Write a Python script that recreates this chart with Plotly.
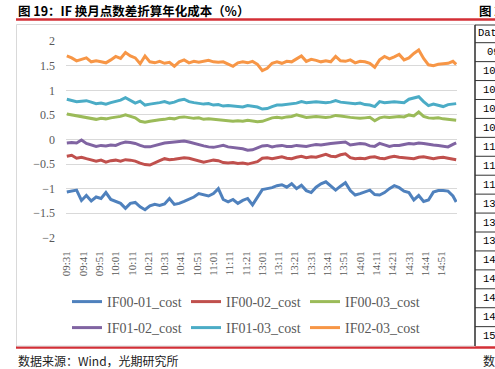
import plotly.graph_objects as go

# ---------------- data ----------------
tick_labels = ["09:31", "09:41", "09:51", "10:01", "10:11", "10:21", "10:31", "10:41",
               "10:51", "11:01", "11:11", "11:21", "13:01", "13:11", "13:21", "13:31",
               "13:41", "13:51", "14:01", "14:11", "14:21", "14:31", "14:41", "14:51"]
# sampled minute index within the 240 trading minutes (every 3 minutes + last)
minute_index = list(range(0, 240, 3)) + [239]

series_names = ["IF00-01_cost", "IF00-02_cost", "IF00-03_cost",
                "IF01-02_cost", "IF01-03_cost", "IF02-03_cost"]

if00_01 = [-1.07, -1.05, -1.03, -1.24, -1.14, -1.25, -1.17, -1.20, -1.08, -1.22,
           -1.26, -1.30, -1.40, -1.30, -1.28, -1.37, -1.43, -1.35, -1.32, -1.34,
           -1.31, -1.20, -1.32, -1.30, -1.26, -1.21, -1.17, -1.10, -1.12, -1.15,
           -1.10, -1.00, -1.22, -1.27, -1.22, -1.30, -1.24, -1.20, -1.33, -1.18,
           -1.02, -1.00, -0.98, -0.94, -0.92, -0.97, -0.90, -1.00, -0.93, -1.04,
           -1.08, -0.97, -0.90, -0.86, -0.95, -1.03, -0.95, -0.88, -1.04, -1.13,
           -1.10, -1.06, -1.03, -1.12, -1.13, -1.08, -1.00, -0.94, -0.98, -1.05,
           -1.08, -1.23, -1.14, -1.26, -1.23, -1.07, -1.04, -1.04, -1.05, -1.15,
           -1.27]
if00_02 = [-0.34, -0.32, -0.38, -0.36, -0.39, -0.41, -0.44, -0.42, -0.46, -0.43,
           -0.42, -0.44, -0.41, -0.42, -0.44, -0.48, -0.51, -0.52, -0.47, -0.43,
           -0.39, -0.41, -0.40, -0.39, -0.37, -0.38, -0.41, -0.43, -0.46, -0.44,
           -0.42, -0.43, -0.47, -0.48, -0.47, -0.49, -0.48, -0.50, -0.47, -0.45,
           -0.38, -0.37, -0.39, -0.37, -0.35, -0.38, -0.39, -0.36, -0.34, -0.37,
           -0.35, -0.36, -0.33, -0.30, -0.34, -0.35, -0.31, -0.29, -0.37, -0.39,
           -0.38, -0.39, -0.36, -0.35, -0.38, -0.39, -0.36, -0.34, -0.36, -0.37,
           -0.38, -0.39, -0.36, -0.35, -0.37, -0.39, -0.37, -0.36, -0.38, -0.40,
           -0.41]
if00_03 = [0.52, 0.50, 0.48, 0.46, 0.45, 0.43, 0.41, 0.43, 0.42, 0.44,
           0.45, 0.47, 0.50, 0.47, 0.44, 0.37, 0.35, 0.37, 0.39, 0.40,
           0.41, 0.43, 0.42, 0.45, 0.46, 0.44, 0.43, 0.44, 0.41, 0.42,
           0.41, 0.41, 0.40, 0.39, 0.37, 0.38, 0.37, 0.39, 0.38, 0.36,
           0.37, 0.40, 0.44, 0.45, 0.44, 0.46, 0.47, 0.50, 0.47, 0.45,
           0.46, 0.47, 0.46, 0.45, 0.46, 0.49, 0.48, 0.46, 0.45, 0.44,
           0.43, 0.44, 0.45, 0.38, 0.44, 0.46, 0.45, 0.46, 0.47, 0.46,
           0.50, 0.48, 0.56, 0.47, 0.44, 0.43, 0.44, 0.42, 0.41, 0.40,
           0.39]
if01_02 = [-0.07, -0.06, -0.07, -0.01, -0.08, -0.11, -0.14, -0.12, -0.13, -0.11,
           -0.12, -0.08, -0.05, -0.06, -0.08, -0.12, -0.15, -0.15, -0.12, -0.10,
           -0.07, -0.06, -0.05, -0.04, -0.03, -0.05, -0.08, -0.10, -0.13, -0.15,
           -0.16, -0.14, -0.12, -0.15, -0.16, -0.17, -0.19, -0.22, -0.21, -0.17,
           -0.13, -0.12, -0.15, -0.13, -0.12, -0.14, -0.14, -0.12, -0.13, -0.14,
           -0.12, -0.10, -0.11, -0.09, -0.08, -0.07, -0.06, -0.05, -0.11, -0.10,
           -0.08, -0.09, -0.13, -0.14, -0.08, -0.11, -0.14, -0.12, -0.12, -0.10,
           -0.08, -0.09, -0.07, -0.08, -0.10, -0.11, -0.12, -0.13, -0.15, -0.10,
           -0.07]
if01_03 = [0.82, 0.79, 0.77, 0.78, 0.79, 0.76, 0.73, 0.74, 0.72, 0.75,
           0.78, 0.80, 0.85, 0.79, 0.74, 0.78, 0.70, 0.72, 0.73, 0.75,
           0.77, 0.74, 0.76, 0.80, 0.82, 0.77, 0.75, 0.74, 0.72, 0.73,
           0.70, 0.71, 0.68, 0.69, 0.68, 0.67, 0.66, 0.69, 0.67, 0.66,
           0.62, 0.63, 0.67, 0.70, 0.70, 0.71, 0.73, 0.74, 0.77, 0.75,
           0.76, 0.77, 0.76, 0.75, 0.76, 0.79, 0.76, 0.75, 0.74, 0.73,
           0.74, 0.71, 0.70, 0.67, 0.77, 0.75, 0.76, 0.77, 0.76, 0.75,
           0.82, 0.84, 0.87, 0.77, 0.69, 0.72, 0.70, 0.67, 0.71, 0.72,
           0.73]
if02_03 = [1.70, 1.66, 1.60, 1.63, 1.66, 1.58, 1.60, 1.58, 1.56, 1.62,
           1.69, 1.65, 1.77, 1.70, 1.66, 1.54, 1.70, 1.58, 1.56, 1.59,
           1.55, 1.57, 1.49, 1.58, 1.62, 1.56, 1.59, 1.57, 1.59, 1.61,
           1.58, 1.57, 1.58, 1.54, 1.49, 1.56, 1.58, 1.56, 1.59, 1.53,
           1.40, 1.45, 1.55, 1.58, 1.55, 1.59, 1.58, 1.64, 1.70, 1.59,
           1.63, 1.61, 1.58, 1.60, 1.58, 1.69, 1.60, 1.59, 1.62, 1.56,
           1.59, 1.58, 1.55, 1.47, 1.62, 1.69, 1.64, 1.68, 1.73, 1.62,
           1.66, 1.75, 1.82, 1.65, 1.52, 1.50, 1.53, 1.54, 1.55, 1.59,
           1.53]

series_values = [if00_01, if00_02, if00_03, if01_02, if01_03, if02_03]
series_colors = ["#4F81BD", "#C0504D", "#9BBB59", "#8064A2", "#4BACC6", "#F79646"]

table_header = "Dat"
table_rows = ["09", "10", "10", "10", "10", "11", "11", "11",
              "13", "13", "13", "14", "14", "14", "14", "15"]

title_text = "<b>图 19：IF 换月点数差折算年化成本（%）</b>"
next_title_text = "<b>图 2</b>"
source_text = "数据来源：Wind，光期研究所"
next_source_text = "数"

# ---------------- layout geometry (pixels) ----------------
W, H = 495, 369
PL, PR, PT, PB = 66, 457, 41, 238


def px_x(px):
    return (px - PL) / (PR - PL)


def px_y(py):
    return (PB - py) / (PB - PT)


fig = go.Figure()
for i, (name, vals, col) in enumerate(zip(series_names, series_values, series_colors)):
    fig.add_trace(go.Scatter(
        x=minute_index, y=vals, name=name, mode="lines",
        line=dict(color=col, width=3),
        legend="legend" if i < 3 else "legend2",
    ))

red = "#D32F36"
shapes = [
    dict(type="line", xref="paper", yref="paper", x0=px_x(16), x1=px_x(W + 2),
         y0=px_y(19.5), y1=px_y(19.5), line=dict(color=red, width=2.5)),
    dict(type="line", xref="paper", yref="paper", x0=px_x(16), x1=px_x(W + 2),
         y0=px_y(347.5), y1=px_y(347.5), line=dict(color=red, width=2.5)),
    dict(type="rect", xref="paper", yref="paper", x0=px_x(16.5), x1=px_x(475),
         y0=px_y(24.5), y1=px_y(346), line=dict(color="#D9D9D9", width=1)),
    dict(type="line", xref="paper", yref="paper", x0=px_x(475), x1=px_x(475),
         y0=px_y(25), y1=px_y(346), line=dict(color="#333333", width=1.5)),
    dict(type="line", xref="paper", yref="paper", x0=px_x(475), x1=px_x(W + 2),
         y0=px_y(25), y1=px_y(25), line=dict(color="#333333", width=1)),
]
row_h = 18.93
header_bottom = 42.7
for k in range(len(table_rows)):
    yy = header_bottom + k * row_h
    shapes.append(dict(type="line", xref="paper", yref="paper", x0=px_x(475), x1=px_x(W + 2),
                       y0=px_y(yy), y1=px_y(yy), line=dict(color="#333333", width=1)))

annotations = [
    dict(text=title_text, xref="paper", yref="paper", x=px_x(16), y=px_y(10.5),
         xanchor="left", yanchor="middle", showarrow=False,
         font=dict(family="Noto Sans CJK SC", size=12.5, color="#000000")),
    dict(text=next_title_text, xref="paper", yref="paper", x=px_x(477), y=px_y(10.5),
         xanchor="left", yanchor="middle", showarrow=False,
         font=dict(family="Noto Sans CJK SC", size=12.5, color="#000000")),
    dict(text=source_text, xref="paper", yref="paper", x=px_x(16), y=px_y(360),
         xanchor="left", yanchor="middle", showarrow=False,
         font=dict(family="Noto Sans CJK SC", size=12, color="#222222")),
    dict(text=next_source_text, xref="paper", yref="paper", x=px_x(481), y=px_y(360),
         xanchor="left", yanchor="middle", showarrow=False,
         font=dict(family="Noto Sans CJK SC", size=12, color="#222222")),
    dict(text=table_header, xref="paper", yref="paper", x=px_x(476), y=px_y(33),
         xanchor="left", yanchor="middle", showarrow=False,
         font=dict(family="Liberation Mono", size=10.5, color="#000000")),
]
for k, t in enumerate(table_rows):
    yc = header_bottom + (k + 0.5) * row_h
    xx = 485 if k == 0 else 481
    annotations.append(dict(text=t, xref="paper", yref="paper", x=px_x(xx), y=px_y(yc),
                            xanchor="left", yanchor="middle", showarrow=False,
                            font=dict(family="Liberation Mono", size=10.5, color="#000000")))

legend_common = dict(
    orientation="h", xref="paper", yref="paper", xanchor="left", yanchor="middle",
    font=dict(family="Liberation Serif", size=14, color="#595959"),
    bgcolor="rgba(0,0,0,0)", borderwidth=0, entrywidth=74, entrywidthmode="pixels",
    itemclick=False, itemdoubleclick=False,
)

fig.update_layout(
    width=W, height=H,
    margin=dict(l=PL, r=W - PR, t=PT, b=H - PB),
    paper_bgcolor="white", plot_bgcolor="white",
    showlegend=True,
    legend=dict(x=px_x(67), y=px_y(302), **legend_common),
    legend2=dict(x=px_x(67), y=px_y(328), **legend_common),
    xaxis=dict(
        range=[-0.5, 239.5], tickmode="array",
        tickvals=[10 * k for k in range(len(tick_labels))], ticktext=tick_labels,
        tickangle=-90, showgrid=False, zeroline=False, showline=False, ticks="",
        tickfont=dict(family="Liberation Serif", size=11, color="#595959"),
        ticklabelstandoff=10,
    ),
    yaxis=dict(
        range=[-2.004, 2.004], tickmode="linear", tick0=0, dtick=0.5,
        showgrid=True, gridcolor="#D9D9D9", gridwidth=1, zeroline=False,
        showline=False, ticks="",
        tickfont=dict(family="Liberation Serif", size=12, color="#595959"),
        ticklabelstandoff=10,
    ),
    shapes=shapes, annotations=annotations,
)

fig.write_html(
    "out.html",
    config={"displayModeBar": False},
    post_script="document.body.style.margin='0px';document.body.style.overflow='hidden';",
)
